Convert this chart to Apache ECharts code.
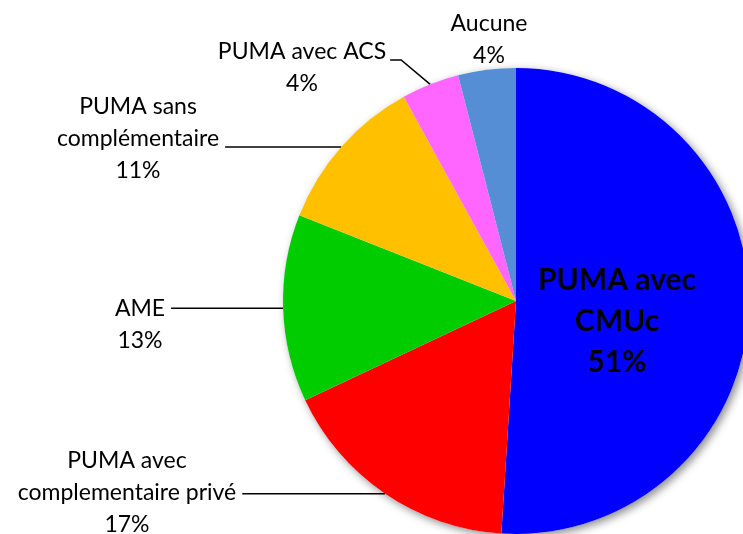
<!DOCTYPE html>
<html>
<head>
<meta charset="utf-8">
<script src="https://cdn.jsdelivr.net/npm/echarts@6/dist/echarts.min.js"></script>
<style>
  html, body { margin: 0; padding: 0; background: #fff; }
  #chart { width: 743px; height: 534px; }
</style>
</head>
<body>
<div id="chart"></div>
<script>
// données du camembert
var categories = ['PUMA avec\nCMUc', 'PUMA avec\ncomplementaire privé', 'AME', 'PUMA sans\ncomplémentaire', 'PUMA avec ACS', 'Aucune'];
var values = [51, 17, 13, 11, 4, 4];
var colors = ['#0000ff', '#ff0000', '#00cc00', '#ffc000', '#ff66ff', '#558ed5'];

// position des étiquettes (centre du bloc de texte)
var labelPos = [[617, 321], [127, 493], [140, 325], [138, 139], [302, 68], [489, 40]];
var center = [516, 301];
var radius = 233;

(function () {
  var myChart = echarts.init(document.getElementById('chart'));

  var data = categories.map(function (name, i) {
    var item = { name: name, value: values[i], itemStyle: { color: colors[i] } };
    if (i === 0) {
      item.label = { fontSize: 30, fontWeight: 'bold', lineHeight: 41 };
      item.labelLine = { show: false };
    }
    if (i === 5) {
      item.labelLine = { show: false };
    }
    return item;
  });

  var option = {
    animation: false,
    series: [
      {
        // ombre sous le disque
        type: 'pie',
        silent: true,
        center: center,
        radius: radius,
        z: 1,
        label: { show: false },
        labelLine: { show: false },
        itemStyle: {
          color: '#ffffff',
          shadowBlur: 8,
          shadowColor: 'rgba(0,0,0,0.45)',
          shadowOffsetX: 3,
          shadowOffsetY: 3
        },
        data: [{ value: 1 }]
      },
      {
        type: 'pie',
        center: center,
        radius: radius,
        startAngle: 90,
        clockwise: true,
        z: 2,
        avoidLabelOverlap: false,
        itemStyle: { borderWidth: 0 },
        label: {
          show: true,
          position: 'outside',
          formatter: '{b}\n{c}%',
          fontFamily: 'Lato',
          fontSize: 23,
          lineHeight: 32,
          color: '#000',
          align: 'center'
        },
        labelLine: {
          show: true,
          length: 10,
          length2: 10,
          lineStyle: { color: '#000', width: 1.5 }
        },
        labelLayout: function (params) {
          var i = params.dataIndex;
          var p = labelPos[i];
          var res = { x: p[0], y: p[1], align: 'center', verticalAlign: 'middle' };
          var pts = params.labelLinePoints;
          if (pts && i !== 0 && i !== 5) {
            var start = pts[0];
            var halfW = params.labelRect.width / 2;
            if (i === 4) {
              var end = [p[0] + halfW + 4, p[1] - 8];
              res.labelLinePoints = [start, [end[0] + 11, end[1]], end];
            } else {
              var e = [p[0] + halfW + 6, start[1]];
              res.labelLinePoints = [start, [(start[0] + e[0]) / 2, (start[1] + e[1]) / 2], e];
            }
          }
          return res;
        },
        data: data
      }
    ]
  };

  myChart.setOption(option);
})();
</script>
</body>
</html>
